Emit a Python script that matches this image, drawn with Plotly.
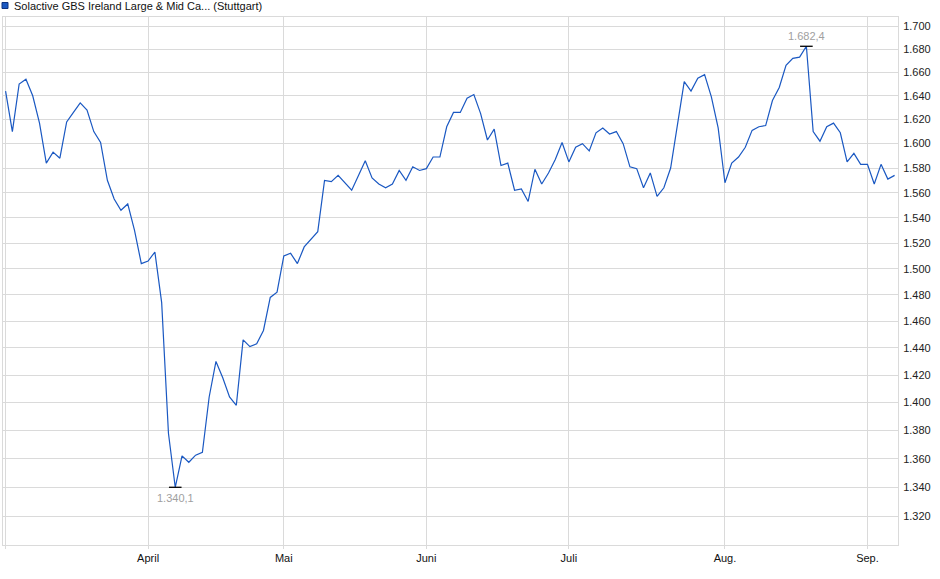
import numpy as np
import pandas as pd
import plotly.graph_objects as go

# ---------------- data ----------------
series_name = "Solactive GBS Ireland Large & Mid Ca... (Stuttgart)"

holidays = ["2025-04-18", "2025-04-21", "2025-05-01"]
dates = [d.strftime("%Y-%m-%d") for d in pd.bdate_range("2025-03-03", "2025-09-05")
         if d.strftime("%Y-%m-%d") not in holidays]

values = [
    1644, 1610, 1650, 1654, 1640, 1617, 1584, 1593, 1588, 1618,
    1626, 1634, 1628, 1610, 1601, 1570, 1555, 1546, 1551, 1530,
    1504, 1506, 1513, 1474, 1378, 1340.1, 1362, 1357.5, 1362.5, 1364.5,
    1404, 1430, 1418, 1404, 1398, 1446, 1441, 1443, 1453, 1478,
    1482, 1510, 1512, 1504, 1517, 1523, 1529, 1570, 1569, 1574,
    1568, 1562, 1574, 1586, 1572, 1567, 1564, 1567, 1578, 1570,
    1581, 1578, 1579.5, 1589, 1589, 1614, 1626, 1626, 1638, 1641,
    1625, 1603, 1612, 1582, 1584, 1562, 1563, 1553, 1579, 1567,
    1576, 1587, 1601, 1585, 1597, 1600, 1594, 1609, 1613, 1608,
    1610, 1600, 1581, 1579.5, 1564, 1576, 1557, 1564, 1580, 1616,
    1652, 1644, 1655, 1658, 1639, 1613, 1568, 1584, 1589, 1597,
    1611, 1614, 1615, 1636, 1647, 1666, 1672, 1673, 1682.4, 1610,
    1602, 1614, 1617, 1609, 1585, 1592, 1583, 1583, 1567, 1583,
    1571, 1574,
]

month_tick_dates = ["2025-03-03", "2025-04-01", "2025-05-02", "2025-06-02",
                    "2025-07-01", "2025-08-01", "2025-09-01"]
month_tick_labels = ["", "April", "Mai", "Juni", "Juli", "Aug.", "Sep."]

y_tick_values = list(range(1320, 1701, 20))


def de_fmt(v, dec=0):
    s = f"{v:,.{dec}f}"
    return s.replace(",", "X").replace(".", ",").replace("X", ".")


y_tick_labels = [de_fmt(v) for v in y_tick_values]

# ---------------- figure ----------------
LINE = "#1a58c2"
GRID = "#dadada"
FONT = "Liberation Sans, Arial, sans-serif"

fig = go.Figure()
fig.add_trace(go.Scatter(x=dates, y=values, mode="lines",
                         line=dict(color=LINE, width=1.2), showlegend=False,
                         hoverinfo="skip"))

i_max = int(np.argmax(values))
i_min = int(np.argmin(values))
fig.add_trace(go.Scatter(x=[dates[i_max], dates[i_min]], y=[values[i_max], values[i_min]],
                         mode="markers",
                         marker=dict(symbol="line-ew", size=9,
                                     line=dict(color="#000000", width=1.3)),
                         showlegend=False, hoverinfo="skip"))

fig.add_annotation(x=dates[i_max], y=np.log10(values[i_max]), text=de_fmt(values[i_max], 1),
                   showarrow=False, yanchor="bottom", yshift=2,
                   font=dict(family=FONT, size=11, color="#a0a0a0"))
fig.add_annotation(x=dates[i_min], y=np.log10(values[i_min]), text=de_fmt(values[i_min], 1),
                   showarrow=False, yanchor="top", yshift=-3,
                   font=dict(family=FONT, size=11, color="#a0a0a0"))

# legend-like header
PW, PH, L, T = 895.0, 528.0, 3.0, 17.0
fig.add_shape(type="rect", xref="paper", yref="paper",
              x0=(2.0 - L) / PW, x1=(8.0 - L) / PW,
              y0=(PH + T - 8.5) / PH, y1=(PH + T - 2.5) / PH,
              fillcolor=LINE, line=dict(color="#0d3380", width=1))
fig.add_annotation(xref="paper", yref="paper", x=(11.5 - L) / PW, y=(PH + T - 5.7) / PH,
                   xanchor="left", yanchor="middle", showarrow=False, text=series_name,
                   font=dict(family=FONT, size=11, color="#111111"))

fig.update_layout(
    width=940, height=579,
    margin=dict(l=3, r=42, t=17, b=34),
    paper_bgcolor="white", plot_bgcolor="white",
    font=dict(family=FONT, size=11, color="#222222"),
    showlegend=False,
)
fig.update_xaxes(type="category", range=[-0.38, 131.5],
                 tickmode="array", tickvals=month_tick_dates, ticktext=month_tick_labels,
                 showgrid=True, gridcolor=GRID, gridwidth=1,
                 ticks="outside", ticklen=3, tickcolor=GRID,
                 showline=True, linecolor=GRID, linewidth=1, mirror=True,
                 tickfont=dict(family=FONT, size=11, color="#111111"),
                 zeroline=False)
fig.update_yaxes(type="log", range=[np.log10(1300.8), np.log10(1708.0)],
                 side="right", tickmode="array", tickvals=y_tick_values, ticktext=y_tick_labels,
                 showgrid=True, gridcolor=GRID, gridwidth=1,
                 ticks="outside", ticklen=2, tickcolor="rgba(0,0,0,0)",
                 showline=True, linecolor=GRID, linewidth=1, mirror=True,
                 tickfont=dict(family=FONT, size=11, color="#222222"),
                 zeroline=False)

fig.write_html("out.html", config={"displayModeBar": False, "staticPlot": True},
               post_script="document.body.style.margin='0px';document.body.style.overflow='hidden';")
